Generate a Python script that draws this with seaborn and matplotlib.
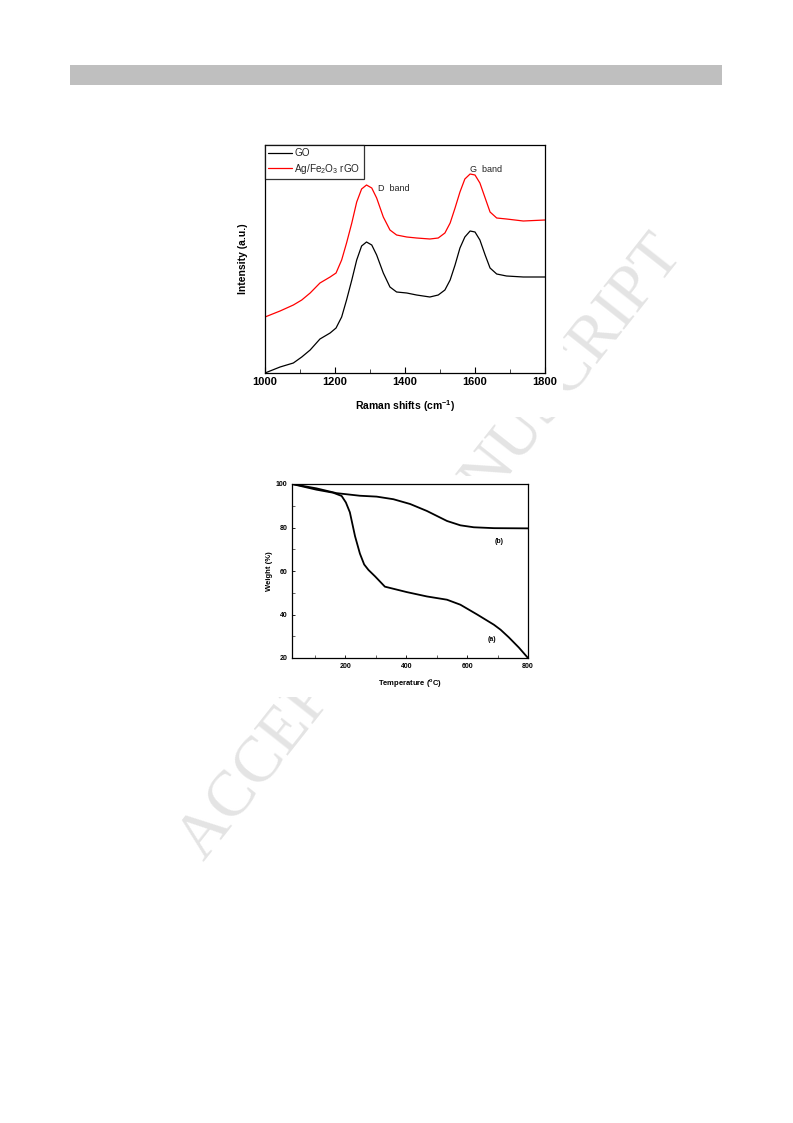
import numpy as np
import pandas as pd
import matplotlib
matplotlib.use("Agg")
import matplotlib.pyplot as plt
from matplotlib.patches import Rectangle
from matplotlib.ticker import MultipleLocator, NullLocator
import seaborn as sns

# ---------------- data ----------------
raman_x = [1000, 1043, 1081, 1105, 1129, 1157, 1186, 1203, 1219, 1233, 1248, 1262, 1276, 1290, 1305,
           1319, 1338, 1357, 1376, 1405, 1433, 1471, 1495, 1514, 1529, 1543, 1557, 1571, 1586, 1600,
           1614, 1629, 1643, 1662, 1690, 1738, 1800]
go_int = [0, 6, 10, 16, 23, 34, 40, 45, 56, 73, 93, 113, 127, 131, 128,
          118, 100, 86, 81, 80, 78, 76, 78, 83, 93, 108, 125, 136, 142, 141,
          133, 118, 105, 99, 97, 96, 96]
agfe_int = [56, 62, 68, 73, 80, 90, 96, 100, 113, 130, 150, 171, 184, 188, 185,
            175, 156, 143, 138, 136, 135, 134, 135, 140, 150, 165, 181, 194, 199, 198,
            190, 175, 161, 155, 154, 152, 153]
raman_ticks = [1000, 1200, 1400, 1600, 1800]

temp_a = [25, 105, 160, 188, 202, 215, 232, 248, 262, 276, 298, 330, 402, 468, 534, 578, 633, 688, 710, 737, 770, 800]
weight_a = [100, 97.4, 96, 94.5, 91.5, 87, 76, 68, 63, 60.5, 57.5, 52.8, 50.3, 48.3, 46.8, 44.5, 40, 35.3, 33, 29.5, 24.8, 20]
temp_b = [25, 105, 171, 248, 303, 358, 413, 468, 534, 578, 622, 688, 800]
weight_b = [100, 98, 95.8, 94.6, 94.2, 93, 90.8, 87.6, 83, 81, 80.1, 79.7, 79.6]
tga_xticks = [200, 400, 600, 800]
tga_yticks = [20, 40, 60, 80, 100]

# ---------------- style ----------------
sns.set_theme(style="white")
plt.rcParams['font.family'] = ['Liberation Sans', 'DejaVu Sans']
plt.rcParams['mathtext.fontset'] = 'custom'
plt.rcParams['mathtext.rm'] = 'Liberation Sans'
plt.rcParams['mathtext.bf'] = 'Liberation Sans:bold'

W, H = 793, 1123
fig = plt.figure(figsize=(W / 100, H / 100), dpi=100)
fig.patch.set_facecolor('white')

def fr(x0, y0, x1, y1):
    return [x0 / W, 1 - y1 / H, (x1 - x0) / W, (y1 - y0) / H]

# header bar
fig.patches.append(Rectangle((70 / W, 1 - 85 / H), 652 / W, 20 / H, transform=fig.transFigure,
                             facecolor='#bfbfbf', edgecolor='none', zorder=1))

# watermark
fig.text(431 / W, 1 - 548 / H, "ACCEPTED MANUSCRIPT", rotation=51.7, fontsize=47,
         family=['Liberation Serif', 'DejaVu Serif'], color='#e4e4e4', ha='center', va='center', zorder=0)

# white image covers
for r in [(232, 140, 563, 417), (262, 476, 536, 697)]:
    x0, y0, x1, y1 = r
    fig.patches.append(Rectangle((x0 / W, 1 - y1 / H), (x1 - x0) / W, (y1 - y0) / H,
                                 transform=fig.transFigure, facecolor='white', edgecolor='none', zorder=0.5))

# ---------------- chart 1: Raman ----------------
ax1 = fig.add_axes(fr(265, 145, 545, 373))
ax1.set_zorder(2)
df_r = pd.DataFrame({'x': raman_x + raman_x,
                     'y': go_int + agfe_int,
                     's': ['GO'] * len(raman_x) + ['Ag/Fe$_2$O$_3$ rGO'] * len(raman_x)})
sns.lineplot(data=df_r, x='x', y='y', hue='s', palette=['black', '#ff0000'], linewidth=0.9,
             ax=ax1, sort=False, estimator=None)
ax1.set_xlim(1000, 1800)
ax1.set_ylim(0, 228)
ax1.set_xticks(raman_ticks)
ax1.xaxis.set_minor_locator(MultipleLocator(100))
ax1.yaxis.set_major_locator(NullLocator())
ax1.tick_params(axis='x', which='major', direction='in', length=4, width=0.8, pad=3,
                labelsize=8, colors='black', bottom=True, top=False)
ax1.tick_params(axis='x', which='minor', direction='in', length=3, width=0.6, bottom=True, top=False)
for lab in ax1.get_xticklabels():
    lab.set_fontweight('bold')
for s in ax1.spines.values():
    s.set_color('black')
    s.set_linewidth(0.9)
ax1.set_xlabel("Raman shifts (cm$^{\\mathbf{-1}}$)", fontsize=7.5, fontweight='bold', color='black')
ax1.xaxis.set_label_coords(0.5, -0.112)
ax1.set_ylabel("Intensity (a.u.)", fontsize=7.5, fontweight='bold', color='black')
ax1.yaxis.set_label_coords(-0.062, 0.5)
leg = ax1.legend(loc='upper left', bbox_to_anchor=(0, 1), borderaxespad=0, fontsize=7.2,
                 frameon=True, fancybox=False, handlelength=2.4, handletextpad=0.25,
                 borderpad=0.3, labelspacing=0.35, title=None)
leg.get_frame().set_edgecolor('black')
leg.get_frame().set_linewidth(0.9)
ax1.text(1323, 185, "D  band", fontsize=6.5, color='#222222', va='center', ha='left')
ax1.text(1586, 204, "G  band", fontsize=6.5, color='#222222', va='center', ha='left')

# ---------------- chart 2: TGA ----------------
ax2 = fig.add_axes(fr(292, 484, 528, 658))
ax2.set_zorder(2)
df_t = pd.DataFrame({'T': temp_a + temp_b, 'W': weight_a + weight_b,
                     's': ['a'] * len(temp_a) + ['b'] * len(temp_b)})
sns.lineplot(data=df_t, x='T', y='W', hue='s', palette=['black', 'black'], linewidth=1.3,
             ax=ax2, sort=False, estimator=None, legend=False)
ax2.set_xlim(25, 800)
ax2.set_ylim(20, 100)
ax2.set_xticks(tga_xticks)
ax2.set_yticks(tga_yticks)
ax2.xaxis.set_minor_locator(MultipleLocator(100))
ax2.yaxis.set_minor_locator(MultipleLocator(10))
ax2.tick_params(axis='both', which='major', direction='in', length=2.5, width=0.6, labelsize=5,
                colors='black', pad=3.5, bottom=True, left=True, top=False, right=False)
ax2.tick_params(axis='both', which='minor', direction='in', length=2, width=0.5,
                bottom=True, left=True, top=False, right=False)
for lab in ax2.get_xticklabels() + ax2.get_yticklabels():
    lab.set_fontweight('bold')
for s in ax2.spines.values():
    s.set_color('black')
    s.set_linewidth(0.9)
ax2.set_xlabel("Temperature ($^{\\mathbf{o}}$C)", fontsize=5.5, fontweight='bold', color='black')
ax2.xaxis.set_label_coords(0.5, -0.11)
ax2.set_ylabel("Weight (%)", fontsize=5.5, fontweight='bold', color='black')
ax2.yaxis.set_label_coords(-0.08, 0.5)
ax2.text(704, 73.5, "(b)", fontsize=5, fontweight='bold', ha='center', va='center', color='black')
ax2.text(682, 28.5, "(a)", fontsize=5, fontweight='bold', ha='center', va='center', color='black')

fig.savefig("out.png", dpi=100, facecolor='white')
